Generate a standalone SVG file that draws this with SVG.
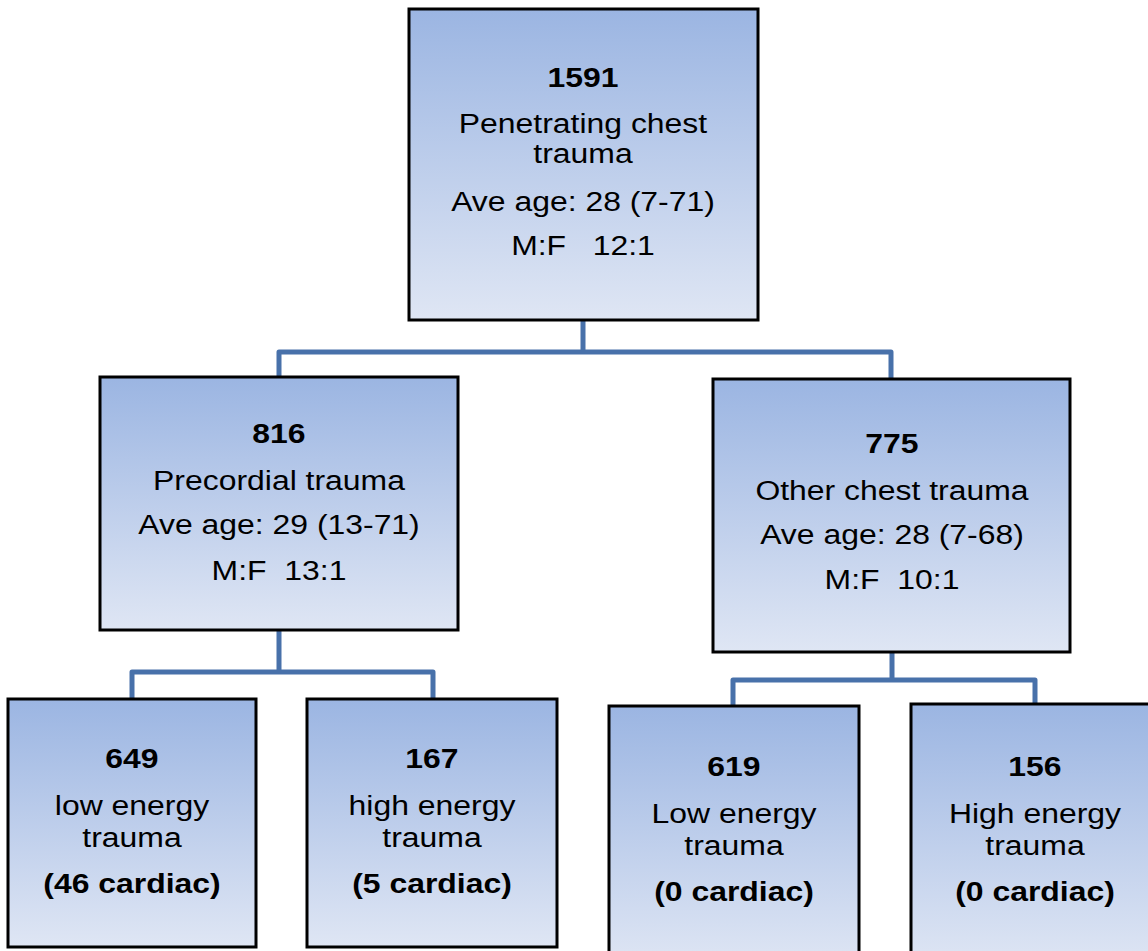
<svg xmlns="http://www.w3.org/2000/svg" width="1148" height="951" viewBox="0 0 1148 951">
<style>
.box{fill:url(#g);stroke:#000;stroke-width:3}
.t{font-family:"Liberation Sans",Arial,sans-serif;font-size:28px;fill:#000;text-anchor:middle;white-space:pre}
.b{font-weight:bold}
.c{fill:none;stroke:#4871aa;stroke-width:5;stroke-linejoin:round}
</style>
<defs>
<linearGradient id="g" x1="0" y1="0" x2="0" y2="1">
<stop offset="0" stop-color="#9bb5e2"/>
<stop offset="1" stop-color="#dfe6f4"/>
</linearGradient>
</defs>
<rect width="1148" height="951" fill="#fff"/>
<g id="connectors">
<path class="c" d="M583,321 V352 M279,377 V352 H891 V379"/>
<path class="c" d="M279,631 V672 M132,698 V672 H433 V698"/>
<path class="c" d="M892,653 V680 M733,705 V680 H1035 V704"/>
</g>
<g id="n1591">
<rect class="box" x="409" y="9" width="349" height="311"/>
<g transform="translate(583,0) scale(1.14,1)">
<text class="t b" x="0" y="87">1591</text>
<text class="t" x="0" y="133">Penetrating chest</text>
<text class="t" x="0" y="163">trauma</text>
<text class="t" x="0" y="211">Ave age: 28 (7-71)</text>
<text class="t" x="0" y="255" xml:space="preserve">M:F   12:1</text>
</g>
</g>
<g id="n816">
<rect class="box" x="100" y="377" width="358" height="253"/>
<g transform="translate(279,0) scale(1.14,1)">
<text class="t b" x="0" y="443">816</text>
<text class="t" x="0" y="490">Precordial trauma</text>
<text class="t" x="0" y="534">Ave age: 29 (13-71)</text>
<text class="t" x="0" y="580" xml:space="preserve">M:F  13:1</text>
</g>
</g>
<g id="n775">
<rect class="box" x="713" y="379" width="357" height="273"/>
<g transform="translate(892,0) scale(1.14,1)">
<text class="t b" x="0" y="453">775</text>
<text class="t" x="0" y="500">Other chest trauma</text>
<text class="t" x="0" y="544">Ave age: 28 (7-68)</text>
<text class="t" x="0" y="589" xml:space="preserve">M:F  10:1</text>
</g>
</g>
<g id="n649">
<rect class="box" x="8" y="699" width="248" height="248"/>
<g transform="translate(132,0) scale(1.14,1)">
<text class="t b" x="0" y="768">649</text>
<text class="t" x="0" y="815">low energy</text>
<text class="t" x="0" y="847">trauma</text>
<text class="t b" x="0" y="893">(46 cardiac)</text>
</g>
</g>
<g id="n167">
<rect class="box" x="307" y="699" width="250" height="248"/>
<g transform="translate(432,0) scale(1.14,1)">
<text class="t b" x="0" y="768">167</text>
<text class="t" x="0" y="815">high energy</text>
<text class="t" x="0" y="847">trauma</text>
<text class="t b" x="0" y="893">(5 cardiac)</text>
</g>
</g>
<g id="n619">
<rect class="box" x="609" y="706" width="250" height="260"/>
<g transform="translate(734,0) scale(1.14,1)">
<text class="t b" x="0" y="776">619</text>
<text class="t" x="0" y="823">Low energy</text>
<text class="t" x="0" y="855">trauma</text>
<text class="t b" x="0" y="901">(0 cardiac)</text>
</g>
</g>
<g id="n156">
<rect class="box" x="911" y="704" width="250" height="262"/>
<g transform="translate(1035,0) scale(1.14,1)">
<text class="t b" x="0" y="776">156</text>
<text class="t" x="0" y="823">High energy</text>
<text class="t" x="0" y="855">trauma</text>
<text class="t b" x="0" y="901">(0 cardiac)</text>
</g>
</g>
</svg>
